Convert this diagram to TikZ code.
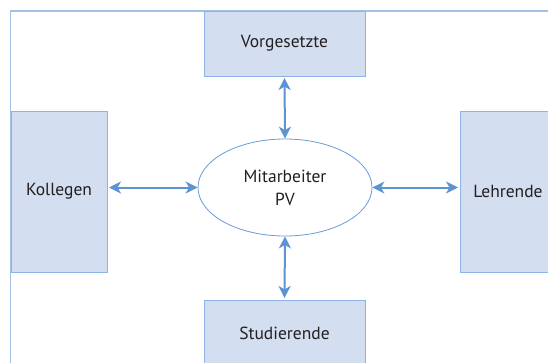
\documentclass[tikz,border=0pt]{standalone}
\usepackage{fontspec}
\setmainfont{PT Sans}
\usetikzlibrary{arrows.meta,shapes.geometric}
\definecolor{boxfill}{HTML}{D3DEF0}
\definecolor{boxline}{HTML}{8EB3E2}
\definecolor{frameline}{HTML}{A3C0E6}
\definecolor{arrowcol}{HTML}{5B93D3}
\definecolor{ellline}{HTML}{6A9BD8}
\definecolor{txt}{HTML}{231F20}
\tikzset{
  rolebox/.style={draw=boxline, fill=boxfill, line width=1pt, inner sep=0pt,
    text=txt, font=\fontsize{17.5}{20}\selectfont},
  centre/.style={draw=ellline, fill=white, ellipse, line width=0.8pt, inner sep=0pt,
    text=txt, align=center, font=\fontsize{17.5}{23}\selectfont},
  link/.style={draw=arrowcol, line width=2pt,
    {Stealth[length=12pt,width=12pt,inset=3.5pt]}-{Stealth[length=12pt,width=12pt,inset=3.5pt]}}
}
\begin{document}
\begin{tikzpicture}[x=1pt,y=-1pt]
\useasboundingbox (0,0) rectangle (548,362);
\clip (0,0) rectangle (548,362);
% outer frame
\draw[frameline, line width=1.2pt] (10.5,370) -- (10.5,11) -- (560,11);
% boxes
\node[rolebox, minimum width=161pt, minimum height=65pt] (vor) at (284.5,43.5) {Vorgesetzte};
\node[rolebox, minimum width=96pt, minimum height=161pt] (kol) at (59,191.5) {Kollegen};
\node[rolebox, minimum width=96pt, minimum height=161pt] (leh) at (508,191.5) {Lehrende};
\node[rolebox, minimum width=161pt, minimum height=66pt] (stu) at (284.5,333) {Studierende};
% centre
\node[centre, minimum width=174pt, minimum height=97pt] (mit) at (285,187.5) {Mitarbeiter\\PV};
% connectors
\draw[link] ([yshift=-1.5pt]vor.south) -- (mit.north);
\draw[link] (mit.south) -- ([yshift=1.5pt]stu.north);
\draw[link] ([xshift=1.5pt]kol.east |- mit.west) -- (mit.west);
\draw[link] (mit.east) -- ([xshift=-1.5pt]leh.west |- mit.east);
\end{tikzpicture}
\end{document}
